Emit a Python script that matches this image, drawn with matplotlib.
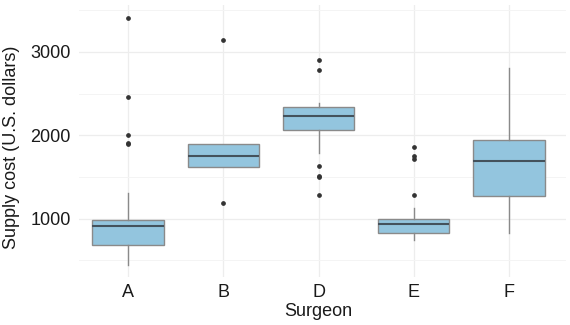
import matplotlib.pyplot as plt
from matplotlib.ticker import MultipleLocator

surgeons = ['A', 'B', 'D', 'E', 'F']
q1 = [688, 1620, 2060, 828, 1276]
med = [916, 1756, 2228, 936, 1692]
q3 = [980, 1896, 2344, 1000, 1940]
whislo = [444, 1620, 1792, 744, 832]
whishi = [1312, 1896, 2392, 1132, 2808]
outliers = [
    [3412, 2464, 2000, 1904, 1892],
    [3144, 1188],
    [2908, 2780, 1632, 1512, 1496, 1280],
    [1856, 1756, 1712, 1280],
    [],
]

stats = []
for i, s in enumerate(surgeons):
    stats.append(dict(label=s, q1=q1[i], med=med[i], q3=q3[i],
                      whislo=whislo[i], whishi=whishi[i], fliers=outliers[i]))

plt.rcParams['font.family'] = ['Liberation Sans', 'DejaVu Sans']

W, H = 570, 325
left, right, top, bottom = 79, 566, 5, 277
fig = plt.figure(figsize=(5.7, 3.25), dpi=100)
ax = fig.add_axes([left / W, 1 - bottom / H, (right - left) / W, (bottom - top) / H])

ax.bxp(stats, positions=range(1, 6), widths=0.75, patch_artist=True, showcaps=False,
       boxprops=dict(facecolor='#93c5de', edgecolor='#8a8a8a', linewidth=1.0),
       medianprops=dict(color='#44525c', linewidth=1.5),
       whiskerprops=dict(color='#8a8a8a', linewidth=1.0),
       flierprops=dict(marker='o', markersize=2.4, markerfacecolor='#333333',
                       markeredgecolor='#333333'),
       zorder=3)

# category A sits at x=128 px, spacing ~95.3 px
ax.set_xlim(1 - (128 - left) / 95.3, 5 + (right - 509) / 95.3)
ax.set_ylim(300, 3564)
ax.yaxis.set_minor_locator(MultipleLocator(500))
ax.set_yticks([1000, 2000, 3000])
ax.grid(True, which='major', color='#ededed', linewidth=0.9)
ax.grid(True, which='minor', axis='y', color='#f4f4f4', linewidth=0.7)
ax.set_axisbelow(True)
for sp in ax.spines.values():
    sp.set_visible(False)
ax.tick_params(which='both', length=0, labelsize=13, labelcolor='#1a1a1a')
ax.tick_params(axis='y', pad=6)
ax.tick_params(axis='x', pad=5)
ax.set_xticks(range(1, 6))
ax.set_xticklabels(surgeons)

fig.text(318 / W, 1 - 312 / H, 'Surgeon', fontsize=13, color='#1a1a1a',
         ha='center', va='center')
fig.text(12 / W, 1 - 147 / H, 'Supply cost (U.S. dollars)', fontsize=13,
         color='#1a1a1a', ha='center', va='center', rotation=90)

fig.savefig('out.png', dpi=100)
